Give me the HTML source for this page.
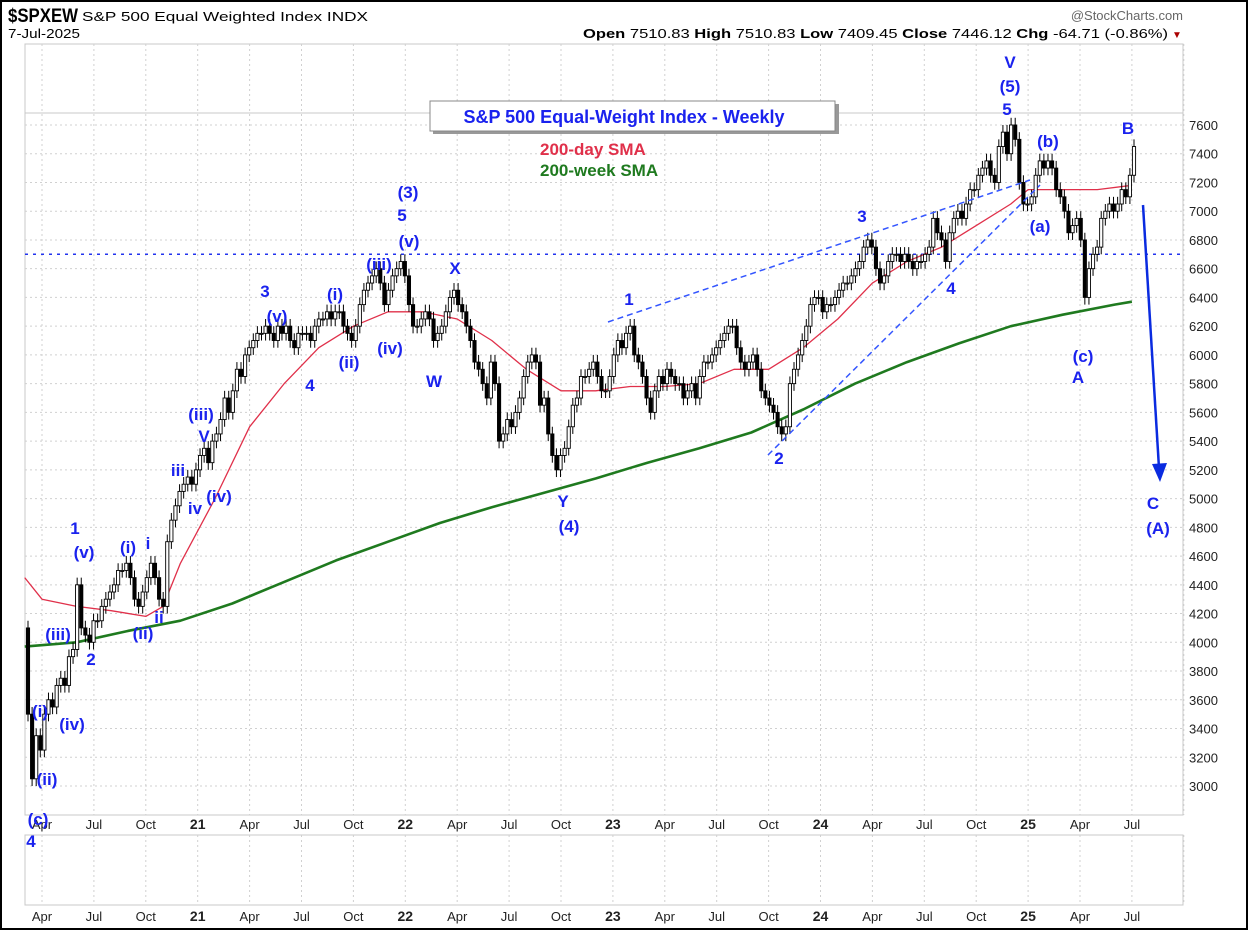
<!DOCTYPE html>
<html><head><meta charset="utf-8">
<style>
body{margin:0;background:#fff;}
#wrap{position:relative;width:1248px;height:930px;overflow:hidden;font-family:"Liberation Sans",sans-serif;}
svg text{font-family:"Liberation Sans",sans-serif;}
</style></head>
<body>
<div id="wrap">
<svg id="chart" width="1248" height="930" xmlns="http://www.w3.org/2000/svg">
<rect x="1" y="1" width="1246" height="928" fill="#fff" stroke="#000" stroke-width="2"/>
<text x="8" y="22" font-size="19" font-weight="bold" textLength="70" lengthAdjust="spacingAndGlyphs">$SPXEW</text>
<text x="82" y="21" font-size="13" textLength="286" lengthAdjust="spacingAndGlyphs">S&amp;P 500 Equal Weighted Index  INDX</text>
<text x="8" y="38" font-size="13" textLength="72" lengthAdjust="spacingAndGlyphs">7-Jul-2025</text>
<text x="1183" y="20" font-size="13" fill="#666" text-anchor="end">@StockCharts.com</text>
<text x="583" y="38" font-size="13" textLength="585" lengthAdjust="spacingAndGlyphs"><tspan font-weight="bold">Open</tspan> 7510.83 <tspan font-weight="bold">High</tspan> 7510.83 <tspan font-weight="bold">Low</tspan> 7409.45 <tspan font-weight="bold">Close</tspan> 7446.12 <tspan font-weight="bold">Chg</tspan> -64.71 (-0.86%)</text>
<text x="1172" y="38" font-size="10" fill="#a00">▼</text>
<rect x="25" y="44" width="1158" height="771" fill="none" stroke="#c8c8c8"/>
<line x1="25" y1="113" x2="1183" y2="113" stroke="#c8c8c8"/>
<rect x="25" y="835" width="1158" height="70" fill="none" stroke="#c8c8c8"/>
<g id="grid"></g>
<g id="marks"></g>
<g id="ann"></g>
</svg>
</div>
<script>
// ---- data ----
const closes = [3500,3050,3350,3250,
3500,3600,3550,3700, 3750,3700,3900,3950, 4400,4100,4050,4000,4150, 4150,4250,4300,4350,
4400,4500,4500,4550, 4450,4300,4250,4350, 4450,4550,4450,4300,4250, 4700,4850,4950,5050,
5100,5150,5100,5200, 5300,5350,5250,5400, 5450,5550,5700,5600, 5750,5900,5850,6000,6050,
6100,6150,6150,6200, 6150,6100,6200,6150, 6200,6100,6050,6150,6150, 6150,6100,6200,6250,
6250,6300,6250,6300, 6300,6200,6150,6100, 6200,6350,6450,6500, 6550,6600,6500,6350,
6450,6550,6600,6650,6550, 6350,6200,6200,6250, 6300,6250,6100,6150, 6200,6300,6400,6450,6350,
6300,6200,6100,5950, 5900,5800,5700,5950, 5800,5400,5450,5550, 5500,5600,5700,5850,
5950,6000,5950,5650, 5700,5450,5300,5200, 5300,5350,5500,5650,5700, 5850,5850,5900,5950,
5850,5750,5750,5850, 6000,6100,6050,6150, 6200,6000,5950,5850, 5700,5600,5750,5850,5800,
5900,5850,5800,5800, 5700,5750,5800,5700, 5850,5950,5950,6000,6050, 6100,6150,6200,6200,
6050,5950,5900,5950, 6000,5900,5750,5700, 5650,5600,5500,5450,5500, 5800,5900,6000,6100,
6200,6350,6400,6400, 6300,6350,6350,6400, 6450,6500,6500,6550, 6600,6650,6750,6800,
6750,6600,6500,6550, 6650,6700,6700,6650,6700, 6650,6600,6650,6650, 6700,6750,6950,6850,
6800,6650,6850,6950,7000, 6950,7050,7150,7150, 7250,7300,7350,7250,7200, 7450,7550,7400,7600,
7500,7200,7050,7050, 7100,7250,7350,7300, 7350,7300,7150,7100, 7000,6850,6900,6950,6800,
6400,6600,6700,6750, 6950,7000,7050,7000, 7050,7150,7100,7250, 7450];
// month index: 0 = Apr 2020
const smaMonths = [-1,0,2,4,6,7,8,10,12,14,16,18,20,22,24,26,28,30,32,34,36,38,40,42,44,46,48,50,52,54,56,57,59,61,63];
const sma200d = [4450,4300,4250,4220,4180,4250,4550,5000,5500,5800,6050,6200,6300,6300,6250,6100,5900,5750,5750,5780,5780,5800,5900,5900,6050,6250,6500,6650,6750,6900,7050,7150,7150,7150,7180];
const wkMonths = [-1,2,5,8,11,14,17,20,23,26,29,32,35,38,41,44,47,50,53,56,59,62,63];
const sma200w = [3970,4000,4080,4150,4270,4420,4570,4700,4830,4940,5040,5140,5250,5350,5460,5620,5800,5950,6080,6200,6280,6350,6370];
const yTicks = [3000,3200,3400,3600,3800,4000,4200,4400,4600,4800,5000,5200,5400,5600,5800,6000,6200,6400,6600,6800,7000,7200,7400,7600];
const xTickMonths = [0,3,6,9,12,15,18,21,24,27,30,33,36,39,42,45,48,51,54,57,60,63,66];
const xTickLabels = ["Apr","Jul","Oct","21","Apr","Jul","Oct","22","Apr","Jul","Oct","23","Apr","Jul","Oct","24","Apr","Jul","Oct","25","Apr","Jul",""];

// ---- axes ----
const NS="http://www.w3.org/2000/svg";
const yS = v => 786 - (v-3000)*0.14370;
const xM = m => 42 + m*17.3;
const WSTEP = (1134-28)/(closes.length-1);
const xW = i => 28 + i*WSTEP;
function mk(tag, attrs, parent){const e=document.createElementNS(NS,tag);for(const k in attrs)e.setAttribute(k,attrs[k]);parent.appendChild(e);return e;}
const grid=document.getElementById('grid'), marks=document.getElementById('marks'), ann=document.getElementById('ann');

yTicks.forEach(v=>{
  const l=mk('line',{x1:25,x2:1183,y1:yS(v),y2:yS(v),stroke:'#d0d0d0','stroke-dasharray':'2,3'},grid);
  
  
  const t=mk('text',{x:1189,y:yS(v)+5,'font-size':13,fill:'#222'},grid);
  t.textContent=v;
  
  
});
xTickMonths.forEach((m,i)=>{
  const x=xM(m);
  const l=mk('line',{x1:x,x2:x,y1:44,y2:815,stroke:'#d0d0d0','stroke-dasharray':'2,3'},grid);
  
  
  const l2=mk('line',{x1:x,x2:x,y1:835,y2:905,stroke:'#d0d0d0','stroke-dasharray':'2,3'},grid);
  
  
  const yr=/^\d+$/.test(xTickLabels[i]);
  [829,921].forEach(yy=>{
    const t=mk('text',{x:x,y:yy,'font-size':yr?14:13,'font-weight':yr?'bold':'normal','text-anchor':'middle',fill:'#222'},grid);
    t.textContent=xTickLabels[i];
    
    
  });
});
const hl=mk('line',{x1:25,x2:1183,y1:yS(6700),y2:yS(6700),stroke:'#2233ee','stroke-width':1.5,'stroke-dasharray':'3,5'},grid);



// ---- SMAs ----
function linePts(ms,vs){return ms.map((m,i)=>xM(m).toFixed(1)+','+yS(vs[i]).toFixed(1)).join(' ');}
const red=mk('polyline',{points:linePts(smaMonths,sma200d),fill:'none',stroke:'#e0304a','stroke-width':1.3,'stroke-linejoin':'round'},marks);


const grn=mk('polyline',{points:linePts(wkMonths,sma200w),fill:'none',stroke:'#1f7a1f','stroke-width':2.6,'stroke-linejoin':'round'},marks);



// ---- candles ----
closes.forEach((c,i)=>{
  const o = i===0 ? 4100 : closes[i-1];
  const hi=Math.max(o,c)+50, lo=Math.min(o,c)-50;
  const x=xW(i);
  const w=mk('line',{x1:x,x2:x,y1:yS(hi),y2:yS(lo),stroke:'#000','stroke-width':1},marks);
  
  
  const top=yS(Math.max(o,c)), h=Math.max(1,yS(Math.min(o,c))-top);
  const b=mk('rect',{x:x-1.6,y:top,width:3.2,height:h,fill:c<o?'#000':'#fff',stroke:'#000','stroke-width':0.9},marks);
  
  
});

// ---- trend lines & arrow ----
[[608,322,1030,180],[768,455,1040,185]].forEach(p=>{
  const l=mk('line',{x1:p[0],y1:p[1],x2:p[2],y2:p[3],stroke:'#3355ff','stroke-width':1.5,'stroke-dasharray':'6,4'},ann);
  
  
});
const ar=mk('line',{x1:1143,y1:205,x2:1159,y2:468,stroke:'#0a2be0','stroke-width':2.5},ann);


const ah=mk('polygon',{points:'1152,464 1167,463 1160,482',fill:'#0a2be0'},ann);



// ---- wave labels ----
const labels=[["(i)",40,717],["(ii)",47,785],["(iii)",58,640],["(iv)",72,730],["2",91,665],["(c)",38,825],["4",31,847],
["1",75,534],["(v)",84,558],["(i)",128,553],["i",148,549],["(ii)",143,639],["ii",159,623],
["iii",178,476],["iv",195,514],["(iv)",219,502],["V",204,442],["(iii)",201,420],
["3",265,297],["(v)",277,322],["4",310,391],["(i)",335,300],["(ii)",349,368],["(iii)",379,270],["(iv)",390,354],
["(3)",408,198],["5",402,221],["(v)",409,247],["X",455,274],["W",434,387],
["1",629,305],["Y",563,507],["(4)",569,532],["2",779,464],["3",862,222],["4",951,294],
["V",1010,68],["(5)",1010,92],["5",1007,115],["(b)",1048,147],["(a)",1040,232],["B",1128,134],["(c)",1083,362],["A",1078,383],["C",1153,509],["(A)",1158,534]];
labels.forEach(l=>{
  const t=mk('text',{x:l[1],y:l[2],'font-size':17,'font-weight':'bold',fill:'#1a22ee','text-anchor':'middle'},ann);
  t.textContent=l[0];
  
  
});

// ---- title box & legend ----
const sh=mk('rect',{x:433,y:104,width:406,height:30,fill:'#999'},ann);


const bx=mk('rect',{x:430,y:101,width:405,height:30,fill:'#fff',stroke:'#888'},ann);


const tt=mk('text',{x:624,y:123,'font-size':18,'font-weight':'bold',fill:'#1a22ee','text-anchor':'middle'},ann);
tt.textContent='S&P 500 Equal-Weight Index - Weekly';


const l1=mk('text',{x:540,y:155,'font-size':17,'font-weight':'bold',fill:'#e0304a'},ann);
l1.textContent='200-day SMA';


const l2=mk('text',{x:540,y:176,'font-size':17,'font-weight':'bold',fill:'#1f7a1f'},ann);
l2.textContent='200-week SMA';


</script>
</body></html>
